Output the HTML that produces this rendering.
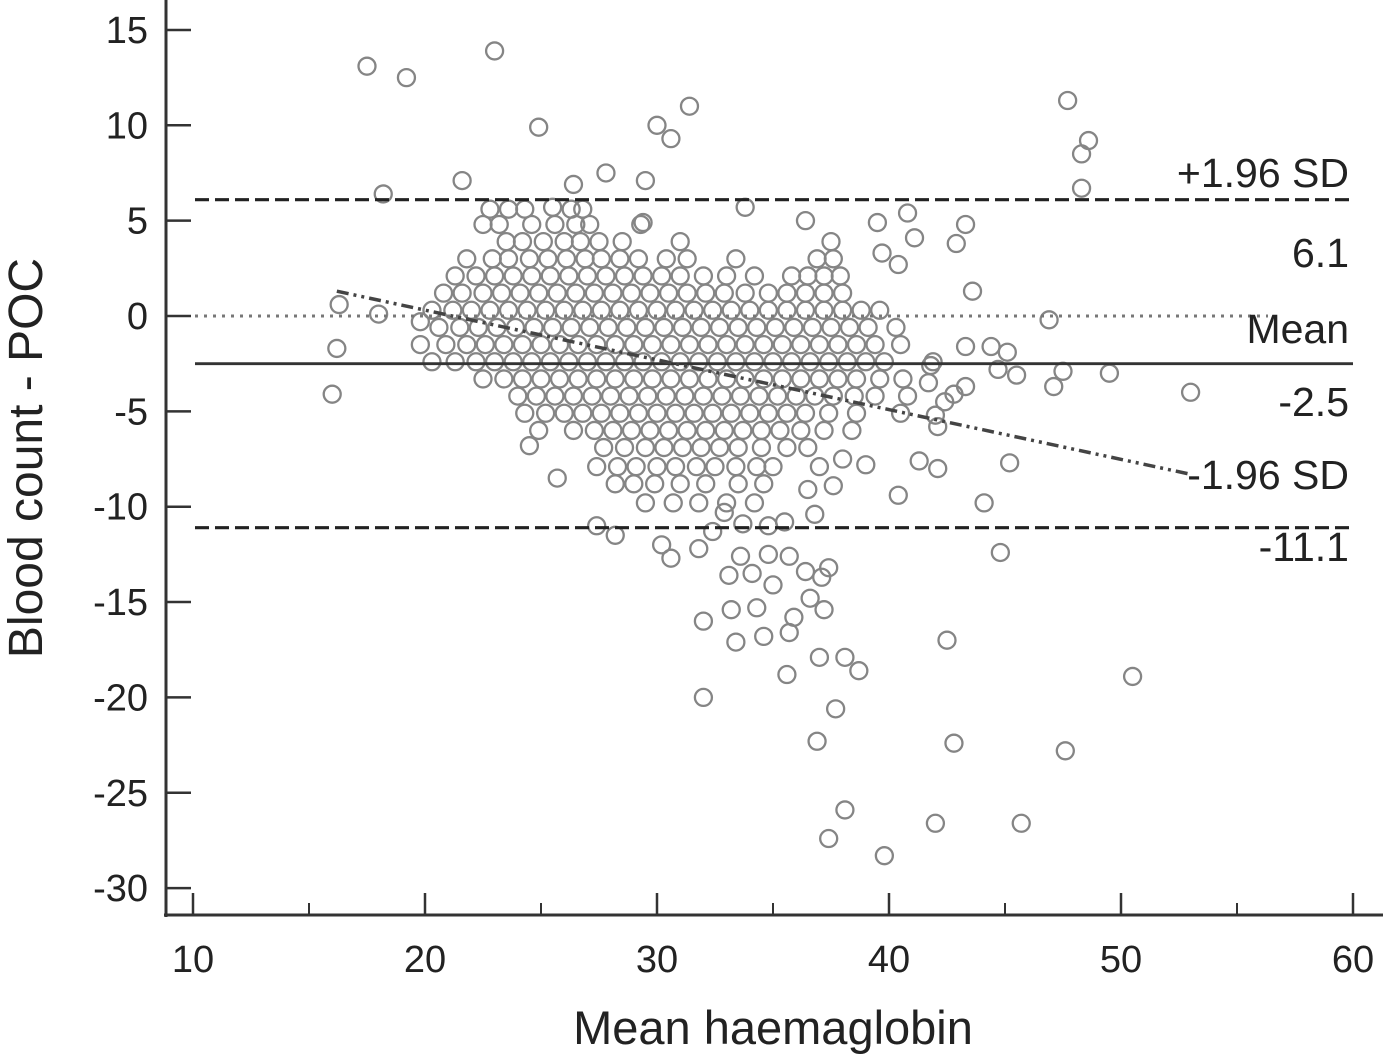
<!DOCTYPE html>
<html><head><meta charset="utf-8"><style>
html,body{margin:0;padding:0;background:#fff;}
svg{display:block;font-family:"Liberation Sans",Arial,sans-serif;}
</style></head><body>
<svg id="chart" width="1383" height="1057" viewBox="0 0 1383 1057">
<g id="pts"></g>
<g id="lines"></g>
<g id="axes"></g>
<g id="labels"></g>
<text x="773" y="1044" font-size="47" text-anchor="middle" fill="#222">Mean haemaglobin</text>
<text transform="translate(42,458) rotate(-90)" font-size="48" text-anchor="middle" fill="#222">Blood count - POC</text>
</svg>
<script>
const xTicks=[10,20,30,40,50,60];
const xMinor=[15,25,35,45,55];
const yTicks=[15,10,5,0,-5,-10,-15,-20,-25,-30];
const meanDiff=-2.5;
const upperLoA=6.1;
const lowerLoA=-11.1;
const trendStart=[16.2,1.3];
const trendEnd=[53.0,-8.3];
const outliers=[[17.5,13.1],[19.2,12.5],[23.0,13.9],[24.9,9.9],[30.0,10.0],[30.6,9.3],[31.4,11.0],[47.7,11.3],[48.6,9.2],[48.3,8.5],[48.3,6.7],[18.2,6.4],[21.6,7.1],[27.8,7.5],[29.5,7.1],[26.4,6.9],[16.3,0.6],[16.2,-1.7],[16.0,-4.1],[18.0,0.1],[19.8,-0.3],[53.0,-4.0],[49.5,-3.0],[47.1,-3.7],[47.5,-2.9],[46.9,-0.2],[50.5,-18.9],[47.6,-22.8],[45.7,-26.6],[42.0,-26.6],[39.8,-28.3],[37.4,-27.4],[38.1,-25.9],[42.8,-22.4],[42.5,-17.0],[36.9,-22.3],[37.7,-20.6],[32.0,-20.0],[38.7,-18.6],[38.1,-17.9],[37.0,-17.9],[35.6,-18.8],[32.0,-16.0],[33.4,-17.1],[34.6,-16.8],[35.7,-16.6],[35.9,-15.8],[37.2,-15.4],[36.6,-14.8],[33.2,-15.4],[34.3,-15.3],[44.8,-12.4],[44.1,-9.8],[45.2,-7.7],[42.1,-8.0],[41.3,-7.6],[40.4,-9.4],[39.0,-7.8],[38.0,-7.5],[37.0,-7.9],[37.6,-8.9],[36.5,-9.1],[36.8,-10.4],[35.0,-7.9],[42.4,-4.5],[43.3,-3.7],[43.3,4.8],[42.9,3.8],[41.1,4.1],[40.8,5.4],[39.5,4.9],[40.4,2.7],[39.7,3.3],[36.4,5.0],[43.6,1.3],[33.8,5.7],[29.4,4.9],[25.5,5.7],[25.7,-8.5],[24.5,-6.8],[27.4,-11.0],[28.2,-11.5],[30.2,-12.0],[30.6,-12.7],[31.8,-12.2],[32.4,-11.3],[32.9,-10.3],[33.7,-10.9],[34.8,-11.0],[35.5,-10.8],[34.8,-12.5],[35.7,-12.6],[33.6,-12.6],[33.1,-13.6],[34.1,-13.5],[35.0,-14.1],[36.4,-13.4],[37.4,-13.2],[37.1,-13.7],[44.4,-1.6],[45.1,-1.9],[45.5,-3.1],[44.7,-2.8],[43.3,-1.6],[41.8,-2.6],[41.7,-3.5],[42.8,-4.1],[42.0,-5.2],[42.1,-5.8]];
const rowY=[5.6,4.8,3.9,3.0,2.1,1.2,0.3,-0.6,-1.5,-2.4,-3.3,-4.2,-5.1,-6.0,-6.9,-7.9,-8.8,-9.8];
const rowX=[
[22.8,23.6,24.3,26.3,26.8],
[22.5,23.2,24.6,25.6,26.5,27.1,29.3],
[23.5,24.2,25.1,26.0,26.7,27.5,28.5,31.0,37.5],
[21.8,22.9,23.6,24.5,25.3,26.1,26.9,27.6,28.4,29.2,30.4,31.3,33.4,36.9,37.6],
[21.3,22.2,23.0,23.8,24.6,25.4,26.2,27.0,27.8,28.6,29.4,30.2,31.0,32.0,33.0,34.2,35.8,36.5,37.2,37.9],
[20.8,21.6,22.5,23.3,24.1,24.9,25.7,26.5,27.3,28.1,28.9,29.7,30.5,31.3,32.1,32.9,33.8,34.8,35.6,36.4,37.2,38.0],
[20.3,21.2,22.0,22.8,23.6,24.4,25.2,26.0,26.8,27.6,28.4,29.2,30.0,30.8,31.6,32.4,33.2,34.0,34.8,35.6,36.4,37.2,38.0,38.8,39.6],
[20.6,21.5,22.3,23.1,23.9,24.7,25.5,26.3,27.1,27.9,28.7,29.5,30.3,31.1,31.9,32.7,33.5,34.3,35.1,35.9,36.7,37.5,38.3,39.1,40.3],
[19.8,20.9,21.8,22.6,23.4,24.2,25.0,25.8,26.6,27.4,28.2,29.0,29.8,30.6,31.4,32.2,33.0,33.8,34.6,35.4,36.2,37.0,37.8,38.6,39.4,40.5],
[20.3,21.3,22.2,23.0,23.8,24.6,25.4,26.2,27.0,27.8,28.6,29.4,30.2,31.0,31.8,32.6,33.4,34.2,35.0,35.8,36.6,37.4,38.2,39.0,39.8,41.9],
[22.5,23.4,24.2,25.0,25.8,26.6,27.4,28.2,29.0,29.8,30.6,31.4,32.2,33.0,33.8,34.6,35.4,36.2,37.0,37.8,38.6,39.6,40.6],
[24.0,24.8,25.6,26.4,27.2,28.0,28.8,29.6,30.4,31.2,32.0,32.8,33.6,34.4,35.2,36.0,36.8,37.6,38.5,39.4,40.8],
[24.3,25.2,26.0,26.8,27.6,28.4,29.2,30.0,30.8,31.6,32.4,33.2,34.0,34.8,35.6,36.4,37.4,38.6,40.5],
[24.9,26.4,27.3,28.1,28.9,29.7,30.5,31.3,32.1,32.9,33.7,34.5,35.3,36.2,37.2,38.4],
[27.7,28.6,29.5,30.3,31.1,31.9,32.7,33.5,34.5,35.6,36.5],
[27.4,28.3,29.1,30.0,30.8,31.7,32.5,33.4,34.3],
[28.2,29.0,29.9,31.0,32.1,33.5,34.6],
[29.5,30.7,31.8,33.0,34.2]];

const NS='http://www.w3.org/2000/svg';
const X=v=>193+(v-10)*23.2;
const Y=v=>316-v*19.07;
function mk(tag,attrs,parent){const e=document.createElementNS(NS,tag);for(const k in attrs)e.setAttribute(k,attrs[k]);parent.appendChild(e);return e;}
const pts=document.getElementById('pts'),lines=document.getElementById('lines'),axes=document.getElementById('axes'),labels=document.getElementById('labels');
function dot(x,y){const c=mk('circle',{cx:X(x),cy:Y(y),r:8.5,fill:'none',stroke:'#858585','stroke-width':2.3},pts);

}
rowY.forEach((y,i)=>rowX[i].forEach(x=>dot(x,y)));
outliers.forEach(p=>dot(p[0],p[1]));

function hline(v,dash,w,col,x2,name){const l=mk('line',{x1:195,x2:x2,y1:Y(v),y2:Y(v),stroke:col,'stroke-width':w},lines);if(dash)l.setAttribute('stroke-dasharray',dash);

}
hline(upperLoA,'14 6',3.2,'#222',1353,'upper-limit-line');
hline(lowerLoA,'14 6',3.2,'#222',1353,'lower-limit-line');
hline(meanDiff,null,2.8,'#333',1353,'mean-line');
hline(0,'3 6',3,'#777',1268,'zero-line');
const tr=mk('line',{x1:X(trendStart[0]),y1:Y(trendStart[1]),x2:X(trendEnd[0]),y2:Y(trendEnd[1]),stroke:'#444','stroke-width':3.5,'stroke-dasharray':'12 5 3 5 3 5'},lines);



const ya=mk('line',{x1:166,x2:166,y1:0,y2:917,stroke:'#333','stroke-width':3},axes);


const xa=mk('line',{x1:164,x2:1383,y1:915,y2:915,stroke:'#333','stroke-width':3},axes);


yTicks.forEach(v=>{mk('line',{x1:166,x2:191,y1:Y(v),y2:Y(v),stroke:'#333','stroke-width':2.5},axes);
const t=mk('text',{x:148,y:Y(v)+13,'font-size':38,'text-anchor':'end',fill:'#222'},axes);t.textContent=v;

});
xTicks.forEach(v=>{mk('line',{x1:X(v),x2:X(v),y1:915,y2:893,stroke:'#333','stroke-width':2.5},axes);
const t=mk('text',{x:X(v),y:972,'font-size':38,'text-anchor':'middle',fill:'#222'},axes);t.textContent=v;

});
xMinor.forEach(v=>mk('line',{x1:X(v),x2:X(v),y1:915,y2:903,stroke:'#333','stroke-width':2},axes));

const labs=[['+1.96 SD',187],[upperLoA.toFixed(1),267],['Mean',343],[meanDiff.toFixed(1),416],['-1.96 SD',489],[lowerLoA.toFixed(1),561]];
labs.forEach(l=>{const t=mk('text',{x:1349,y:l[1],'font-size':41,'text-anchor':'end',fill:'#222'},labels);t.textContent=l[0];

});
</script>
</body></html>
